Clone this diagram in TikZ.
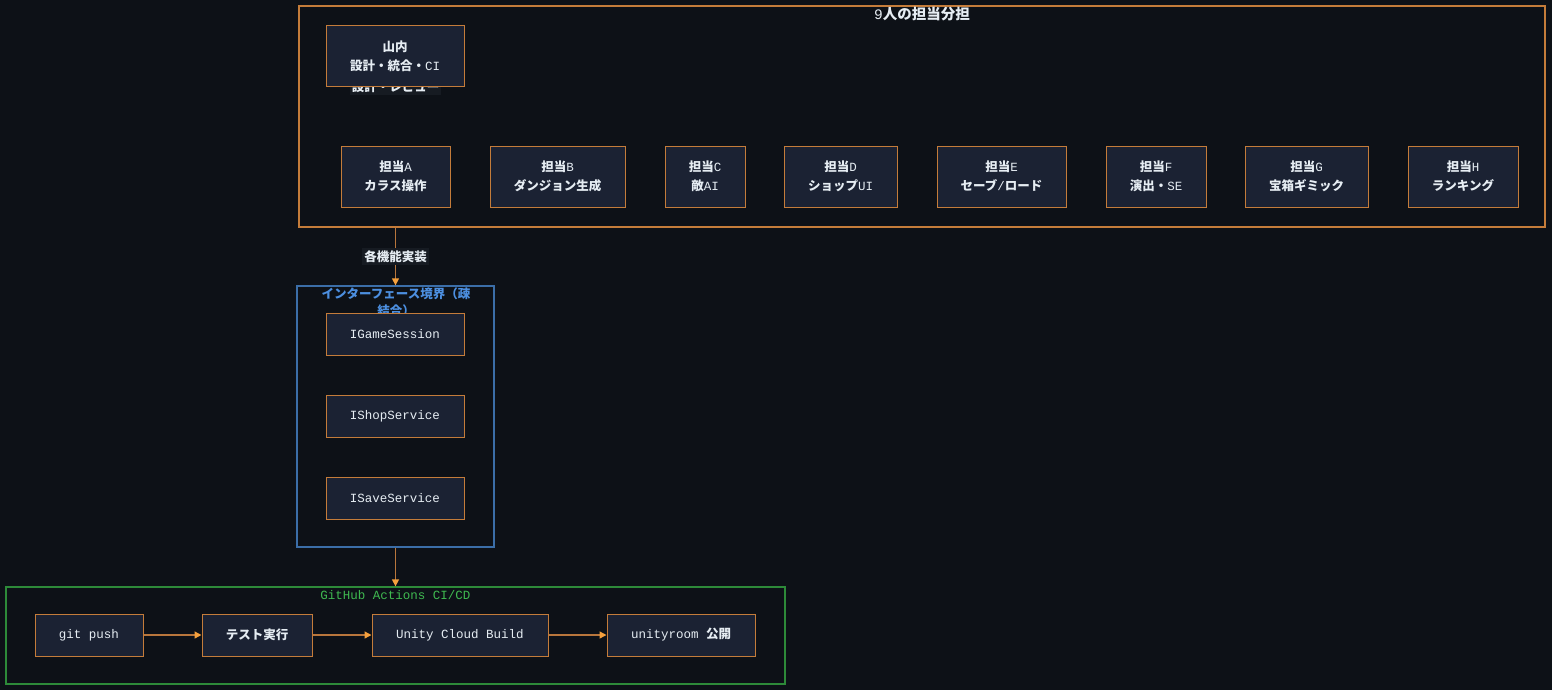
\documentclass[tikz,border=0pt]{standalone}
\usepackage{fontspec}
\setmainfont{Liberation Mono}
\newfontfamily\jpfont{Noto Sans CJK JP}
\newcommand{\ja}[1]{{\jpfont\bfseries #1}}
\usepackage{tikz}
\usetikzlibrary{
  arrows.meta,
  positioning,
  calc
}
\definecolor{tmBg}{HTML}{0D1117}
\definecolor{tmFill}{HTML}{1B2233}
\definecolor{tmLine}{HTML}{C47C3A}
\definecolor{tmArrow}{HTML}{B8763C}
\definecolor{tmTip}{HTML}{F5A03C}
\definecolor{tmText}{HTML}{E6EDF3}
\definecolor{tmTag}{HTML}{161B22}
\definecolor{tmIface}{HTML}{3B6EA8}
\definecolor{tmIfaceText}{HTML}{4C8FE0}
\definecolor{tmCI}{HTML}{2D8A39}
\definecolor{tmCIText}{HTML}{3FB950}
\tikzset{
  tmnode/.style={
    draw=tmLine, fill=tmFill, text=tmText, line width=1pt, inner sep=0pt,
    font=\fontsize{12.5}{19}\selectfont, align=center
  },
  member/.style={tmnode, minimum height=61pt},
  iface/.style={tmnode, minimum width=138pt, minimum height=42pt},
  cistep/.style={tmnode, minimum height=42pt},
  zone/.style={draw, line width=1.3pt, inner sep=0pt},
  title/.style={font=\fontsize{12.5}{17}\selectfont, align=center, inner sep=0pt},
  flow/.style={-{Triangle[length=7pt, width=7pt, color=tmTip, fill=tmTip]}, line width=1.4pt, tmArrow},
  tag/.style={fill=tmTag, text=tmText, inner sep=2pt, font=\fontsize{12.5}{15}\selectfont}
}

\begin{document}
\begin{tikzpicture}[x=1pt, y=-1pt]
  \useasboundingbox (0,0) rectangle (1568,698);
  \fill[tmBg] (0,0) rectangle (1552,690);
  % Team: nine people and their parts
  \node[zone, draw=tmLine, minimum width=1246pt, minimum height=221pt] (team) at (922,116.5) {};
  \node[title, text=tmText, font=\fontsize{14.5}{17}\selectfont] (teamtitle) at (922,14) {9\ja{人の担当分担}};
  \node[tag] (review) at (395.5,87) {\ja{設計・レビュー}};
  \node[member, minimum width=138pt] (lead) at (395,56.5) {\ja{山内}\\\ja{設計・統合・}CI};
  \node[member, minimum width=109pt] (memA) at (395.5,176.5) {\ja{担当}A\\\ja{カラス操作}};
  \node[member, minimum width=135pt] (memB) at (557.5,176.5) {\ja{担当}B\\\ja{ダンジョン生成}};
  \node[member, minimum width=80pt] (memC) at (705,176.5) {\ja{担当}C\\\ja{敵}AI};
  \node[member, minimum width=113pt] (memD) at (840.5,176.5) {\ja{担当}D\\\ja{ショップ}UI};
  \node[member, minimum width=129pt] (memE) at (1001.5,176.5) {\ja{担当}E\\\ja{セーブ}/\ja{ロード}};
  \node[member, minimum width=100pt] (memF) at (1156,176.5) {\ja{担当}F\\\ja{演出・}SE};
  \node[member, minimum width=123pt] (memG) at (1306.5,176.5) {\ja{担当}G\\\ja{宝箱ギミック}};
  \node[member, minimum width=110pt] (memH) at (1463,176.5) {\ja{担当}H\\\ja{ランキング}};
  % Interfaces (loose coupling)
  \node[zone, draw=tmIface, minimum width=197pt, minimum height=261pt] (bound) at (395.5,416.5) {};
  \node[title, text=tmIfaceText, text width=170pt] (boundtitle) at (396,302) {{\jpfont\bfseries インターフェース境界（疎}\\{\jpfont\bfseries 結合）}};
  \node[iface] (session) at (395,334) {IGameSession};
  \node[iface] (shop) at (395,416) {IShopService};
  \node[iface] (save) at (395,498) {ISaveService};
  % CI/CD pipeline
  \node[zone, draw=tmCI, minimum width=779pt, minimum height=97pt] (cicd) at (395.5,635.5) {};
  \node[title, text=tmCIText] (cititle) at (395.5,595) {GitHub Actions CI/CD};
  \node[cistep, minimum width=108pt] (push) at (89,635) {git push};
  \node[cistep, minimum width=110pt] (test) at (257,635) {\ja{テスト実行}};
  \node[cistep, minimum width=176pt] (build) at (460,635) {Unity Cloud Build};
  \node[cistep, minimum width=148pt] (publish) at (681,635) {unityroom \ja{公開}};
  % Connections between the groups
  \draw[flow] (team.south -| bound.north) -- node[tag, font=\fontsize{12.5}{15}\jpfont\bfseries] (impl) {各機能実装} (bound.north);
  \draw[flow] (bound.south) -- (cicd.north);
  \draw[flow] (push) -- (test);
  \draw[flow] (test) -- (build);
  \draw[flow] (build) -- (publish);
\end{tikzpicture}
\end{document}
